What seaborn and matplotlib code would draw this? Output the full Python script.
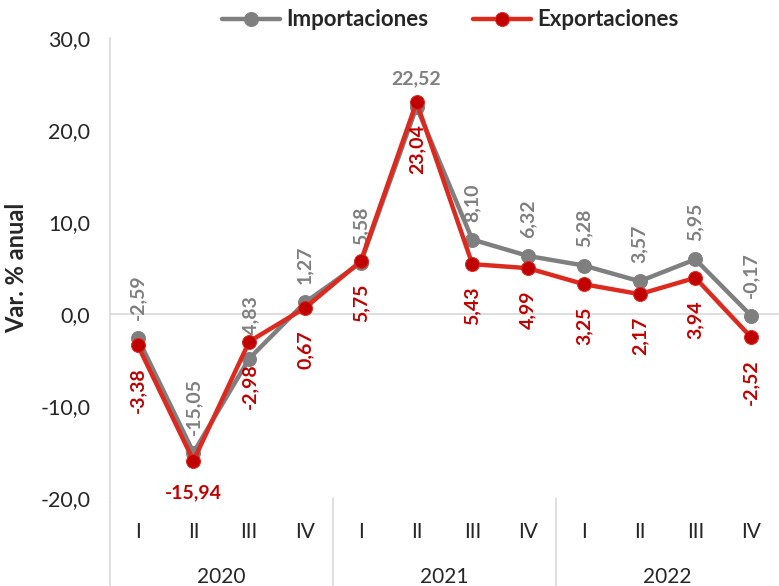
import numpy as np
import pandas as pd
import matplotlib.pyplot as plt
import matplotlib.transforms as mtransforms
import seaborn as sns

# data
quarters = ["I", "II", "III", "IV"] * 3
years = ["2020", "2021", "2022"]
importaciones = [-2.59, -15.05, -4.83, 1.27, 5.58, 22.52, 8.10, 6.32, 5.28, 3.57, 5.95, -0.17]
exportaciones = [-3.38, -15.94, -2.98, 0.67, 5.75, 23.04, 5.43, 4.99, 3.25, 2.17, 3.94, -2.52]

# labels drawn horizontally instead of rotated
horiz_imp = [5]
horiz_exp = [1]

sns.set_style("white")
plt.rcParams["font.family"] = ["Lato", "DejaVu Sans"]

gray = "#7f7f7f"
red_line = "#dc2a1f"
red_dark = "#c00000"

df = pd.DataFrame({"idx": np.arange(len(quarters)),
                   "Importaciones": importaciones,
                   "Exportaciones": exportaciones})

fig = plt.figure(figsize=(7.79, 5.86), dpi=100)
ax = fig.add_axes([0.141, 0.150, 0.859, 0.785])

sns.lineplot(data=df, x="idx", y="Importaciones", ax=ax, color=gray, linewidth=3.2,
             marker="o", markersize=10, markerfacecolor=gray, markeredgecolor=gray,
             label="Importaciones", zorder=3)
sns.lineplot(data=df, x="idx", y="Exportaciones", ax=ax, color=red_line, linewidth=3.2,
             marker="o", markersize=10, markerfacecolor=red_dark, markeredgecolor=red_line,
             label="Exportaciones", zorder=4)

fmt = lambda v: f"{v:.2f}".replace(".", ",")

for i, v in enumerate(importaciones):
    if i in horiz_imp:
        ax.annotate(fmt(v), (i, v), xytext=(0, 14), textcoords="offset points",
                    ha="center", va="bottom", fontsize=14, fontweight="bold", color=gray)
    else:
        ax.annotate(fmt(v), (i, v), xytext=(0, 13), textcoords="offset points",
                    ha="center", va="bottom", rotation=90, fontsize=14,
                    fontweight="bold", color=gray)

for i, v in enumerate(exportaciones):
    if i in horiz_exp:
        ax.annotate(fmt(v), (i, v), xytext=(0, -17), textcoords="offset points",
                    ha="center", va="top", fontsize=14, fontweight="bold", color=red_dark)
    else:
        ax.annotate(fmt(v), (i, v), xytext=(0, -16), textcoords="offset points",
                    ha="center", va="top", rotation=90, fontsize=14,
                    fontweight="bold", color=red_dark)

ax.set_xlim(-0.5, len(quarters) - 0.5)
ax.set_ylim(-20, 30)
ax.set_yticks([-20, -10, 0, 10, 20, 30])
ax.set_yticklabels([f"{t:.1f}".replace(".", ",") for t in [-20, -10, 0, 10, 20, 30]])
ax.tick_params(axis="y", length=0, pad=14, labelsize=15.5)
ax.set_xticks(range(len(quarters)))
ax.set_xticklabels(quarters)
ax.tick_params(axis="x", length=0, pad=17, labelsize=15)
ax.set_xlabel("")
ax.set_ylabel("Var. % anual", fontsize=17, fontweight="bold", labelpad=9)

for s in ["top", "right", "bottom"]:
    ax.spines[s].set_visible(False)
ax.spines["left"].set_color("#d9d9d9")
ax.spines["left"].set_linewidth(1.2)
ax.axhline(0, color="#d9d9d9", linewidth=1.2, zorder=1)

# year groups below the quarters
trans = mtransforms.blended_transform_factory(ax.transData, ax.transAxes)
for x in [-0.5, 3.5, 7.5]:
    ax.plot([x, x], [0, -0.2], transform=trans, color="#d9d9d9", linewidth=1.2, clip_on=False)
for k, y in enumerate(years):
    ax.text(4 * k + 1.5, -0.172, y, transform=trans, ha="center", va="center", fontsize=15)

leg = ax.legend(loc="center", bbox_to_anchor=(0.578, 0.966), bbox_transform=fig.transFigure,
                ncol=2, frameon=False, handlelength=2.6, columnspacing=2.0, handletextpad=0.3,
                prop={"size": 16, "weight": "bold"})

fig.savefig("out.png", dpi=100)
